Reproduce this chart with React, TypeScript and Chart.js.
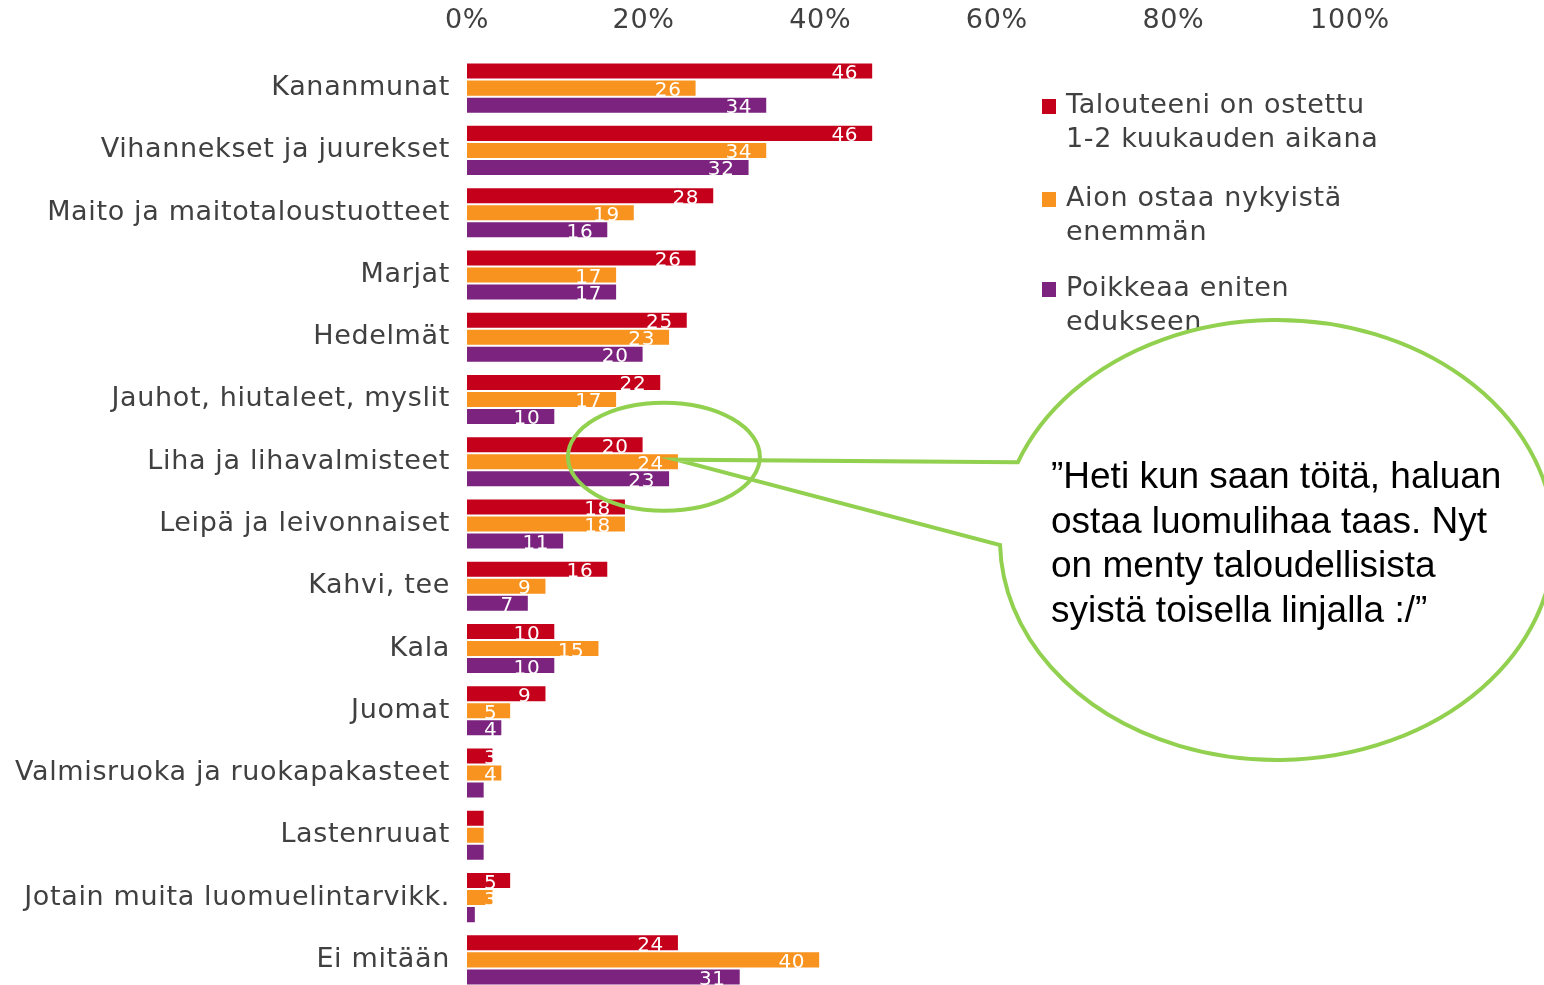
import { useEffect, useRef } from 'react';
import { Chart, registerables } from 'chart.js';

Chart.register(...registerables);

const categories = [
  'Kananmunat',
  'Vihannekset ja juurekset',
  'Maito ja maitotaloustuotteet',
  'Marjat',
  'Hedelmät',
  'Jauhot, hiutaleet, myslit',
  'Liha ja lihavalmisteet',
  'Leipä ja leivonnaiset',
  'Kahvi, tee',
  'Kala',
  'Juomat',
  'Valmisruoka ja ruokapakasteet',
  'Lastenruuat',
  'Jotain muita luomuelintarvikk.',
  'Ei mitään',
];

const purchasedValues = [46, 46, 28, 26, 25, 22, 20, 18, 16, 10, 9, 3, 2, 5, 24];
const intendValues = [26, 34, 19, 17, 23, 17, 24, 18, 9, 15, 5, 4, 2, 3, 40];
const standsOutValues = [34, 32, 16, 17, 20, 10, 23, 11, 7, 10, 4, 2, 2, 1, 31];

const seriesNames = [
  ['Talouteeni on ostettu', '1-2 kuukauden aikana'],
  ['Aion ostaa nykyistä', 'enemmän'],
  ['Poikkeaa eniten', 'edukseen'],
];
const seriesColors = ['#C5001A', '#F7931E', '#7B237E'];

const xTickValues = [0, 20, 40, 60, 80, 100];

const quoteLines = [
  '”Heti kun saan töitä, haluan',
  'ostaa luomulihaa taas. Nyt',
  'on menty taloudellisista',
  'syistä toisella linjalla :/”',
];

const highlightIndex = 6;
const FONT = '"DejaVu Sans", Verdana, sans-serif';
const GREEN = '#92D050';
const TEXT = '#404040';
const SPACING = '0.65px';

export default function App() {
  const ref = useRef<HTMLCanvasElement>(null);

  useEffect(() => {
    const canvas = ref.current!;

    const spacing = {
      id: 'spacing',
      beforeDraw(chart: any) {
        (chart.ctx as any).letterSpacing = SPACING;
      },
    };

    const barLabels = {
      id: 'barLabels',
      afterDatasetsDraw(chart: any) {
        const ctx = chart.ctx;
        ctx.save();
        (ctx as any).letterSpacing = SPACING;
        ctx.font = `20px ${FONT}`;
        ctx.fillStyle = '#ffffff';
        ctx.textAlign = 'left';
        ctx.textBaseline = 'alphabetic';
        chart.data.datasets.forEach((ds: any, di: number) => {
          const meta = chart.getDatasetMeta(di);
          meta.data.forEach((bar: any, i: number) => {
            const v = ds.data[i] as number;
            const { x, y, base, height } = bar.getProps(['x', 'y', 'base', 'height'], true);
            const txt = String(v);
            const w = ctx.measureText(txt).width;
            const left = Math.max(x - 15 - w, base + 17);
            ctx.save();
            ctx.beginPath();
            ctx.rect(base, y - height / 2, x - base, height);
            ctx.clip();
            ctx.fillText(txt, left, y + height / 2 - 0.5);
            ctx.restore();
          });
        });
        ctx.restore();
      },
    };

    const annotations = {
      id: 'annotations',
      afterDraw(chart: any) {
        const ctx = chart.ctx;
        const xs = chart.scales.x;
        const ys = chart.scales.y;

        // legend
        ctx.save();
        (ctx as any).letterSpacing = SPACING;
        const groupY = [106, 199, 289];
        seriesNames.forEach((lines, k) => {
          ctx.fillStyle = seriesColors[k];
          ctx.fillRect(1042, groupY[k] - 7, 14, 15);
          ctx.fillStyle = TEXT;
          ctx.font = `27px ${FONT}`;
          ctx.textAlign = 'left';
          ctx.textBaseline = 'middle';
          lines.forEach((line, j) => {
            ctx.fillText(line, 1066, groupY[k] + j * 34);
          });
        });
        ctx.restore();

        // speech bubble
        const orangeBar = chart.getDatasetMeta(1).data[highlightIndex];
        const tipX = orangeBar.x - 3;
        const tipY = orangeBar.y - 2;
        const cx = 1277, cy = 540, rx = 277, ry = 220;
        const a1 = Math.atan2((463 - cy) / ry, (1020 - cx) / rx);
        const a2 = Math.atan2((545 - cy) / ry, (1000 - cx) / rx);
        ctx.save();
        ctx.beginPath();
        ctx.ellipse(cx, cy, rx, ry, 0, a1, a2, false);
        ctx.lineTo(tipX, tipY);
        ctx.closePath();
        ctx.fillStyle = '#ffffff';
        ctx.fill();
        ctx.strokeStyle = GREEN;
        ctx.lineWidth = 4;
        ctx.lineJoin = 'miter';
        ctx.stroke();

        // highlight ellipse around the category
        const ex = xs.getPixelForValue(22.3);
        const ey = ys.getPixelForValue(highlightIndex) - 5;
        ctx.beginPath();
        ctx.ellipse(ex, ey, 96, 54, 0, 0, Math.PI * 2);
        ctx.stroke();

        // quote text
        (ctx as any).letterSpacing = '0px';
        ctx.fillStyle = '#000000';
        ctx.font = '37px "Liberation Sans", Arial, sans-serif';
        ctx.textAlign = 'left';
        ctx.textBaseline = 'middle';
        quoteLines.forEach((line, i) => {
          ctx.fillText(line, 1051, 478 + i * 44.5);
        });
        ctx.restore();
      },
    };

    const chart = new Chart(canvas, {
      type: 'bar',
      data: {
        labels: categories,
        datasets: [
          { label: seriesNames[0].join(' '), data: purchasedValues, backgroundColor: seriesColors[0] },
          { label: seriesNames[1].join(' '), data: intendValues, backgroundColor: seriesColors[1] },
          { label: seriesNames[2].join(' '), data: standsOutValues, backgroundColor: seriesColors[2] },
        ],
      },
      options: {
        animation: false,
        responsive: false,
        indexAxis: 'y',
        layout: { padding: { left: 0, right: 194, top: 0, bottom: 9 } },
        datasets: {
          bar: {
            categoryPercentage: 0.82,
            barPercentage: 1,
            borderWidth: 1,
            borderColor: 'rgba(255,255,255,0.55)',
          },
        },
        plugins: {
          legend: { display: false },
          tooltip: { enabled: false },
        },
        scales: {
          x: {
            position: 'top',
            min: 0,
            max: 100,
            afterFit: (s: any) => {
              s.height = 57;
              s.paddingLeft = 0;
              s.paddingRight = 0;
            },
            afterBuildTicks: (s: any) => { s.ticks = xTickValues.map((v) => ({ value: v })); },
            grid: { display: false, drawTicks: false },
            border: { display: false },
            ticks: {
              callback: (v: any) => `${v}%`,
              font: { family: FONT, size: 27 },
              color: TEXT,
              padding: 20,
              maxRotation: 0,
              autoSkip: false,
            },
          },
          y: {
            afterFit: (s: any) => {
              s.width = 467;
              s.paddingTop = 0;
              s.paddingBottom = 0;
            },
            grid: { display: false, drawTicks: false },
            border: { display: false },
            ticks: {
              font: { family: FONT, size: 27 },
              color: TEXT,
              padding: 17,
              autoSkip: false,
            },
          },
        },
      },
      plugins: [spacing, barLabels, annotations],
    } as any);

    return () => chart.destroy();
  }, []);

  return (
    <div style={{ position: 'fixed', left: 0, top: 0, width: 1544, height: 1000, background: '#fff' }}>
      <canvas ref={ref} width={1544} height={1000} style={{ display: 'block' }} />
    </div>
  );
}
